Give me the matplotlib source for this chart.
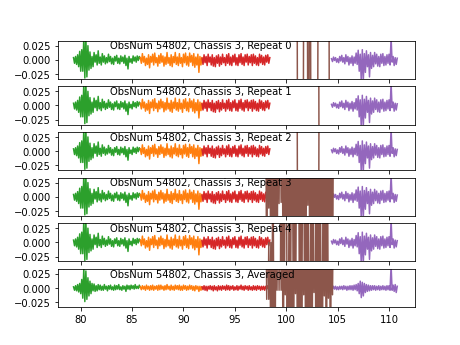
import numpy as np
import matplotlib
matplotlib.use("Agg")
import matplotlib.pyplot as plt

titles = ["ObsNum 54802, Chassis 3, Repeat 0",
          "ObsNum 54802, Chassis 3, Repeat 1",
          "ObsNum 54802, Chassis 3, Repeat 2",
          "ObsNum 54802, Chassis 3, Repeat 3",
          "ObsNum 54802, Chassis 3, Repeat 4",
          "ObsNum 54802, Chassis 3, Averaged"]

# frequency spans of each board (GHz)
green_span = (79.3, 85.8)
orange_span = (85.8, 91.8)
red_span = (91.8, 98.4)
purple_span = (104.4, 110.8)

# single repeats (peak-to-peak samples)
green_rep = [0.004, -0.006, 0.006, -0.008, 0.009, -0.012, 0.015, -0.02, 0.018, -0.02,
             0.04, -0.032, 0.04, -0.03, 0.025, -0.018, 0.014, -0.015, 0.006, -0.012,
             0.013, -0.004, 0.009, -0.009, 0.016, -0.006, 0.005, -0.009, 0.011, -0.004,
             0.007, -0.007, 0.004, -0.005, 0.01, -0.003, 0.006, -0.007, 0.003, -0.008,
             0.006, -0.002, 0.008, -0.006, 0.003, -0.007, 0.007, -0.003, 0.005, -0.006,
             0.008, -0.01, 0.003, -0.016, 0.006, -0.004, 0.002, -0.006, 0.007, -0.002,
             0.005, -0.004, 0.007, -0.001, 0.006, 0.002]
orange_rep = [0.004, -0.006, 0.011, -0.004, 0.006, -0.01, 0.003, -0.008, 0.009, -0.014,
              0.006, -0.004, 0.01, -0.009, 0.012, -0.005, 0.004, -0.011, 0.008, -0.006,
              0.011, -0.004, 0.007, -0.011, 0.005, -0.008, 0.013, -0.006, 0.004, -0.01,
              0.009, -0.012, 0.006, -0.005, 0.013, -0.008, 0.005, -0.01, 0.011, -0.006,
              0.004, -0.012, 0.01, -0.005, 0.012, -0.009, 0.006, -0.011, 0.012, -0.004,
              0.008, -0.01, 0.011, -0.013, 0.005, -0.009, 0.01, -0.022, 0.006, -0.009,
              0.004]
red_rep = [0.003, -0.008, 0.009, -0.005, 0.006, -0.01, 0.01, -0.004, 0.005, -0.009,
           0.009, -0.011, 0.004, -0.012, 0.007, -0.006, 0.009, -0.011, 0.005, -0.008,
           0.01, -0.005, 0.004, -0.01, 0.009, -0.006, 0.011, -0.009, 0.005, -0.01,
           0.008, -0.004, 0.01, -0.009, 0.004, -0.01, 0.009, -0.005, 0.011, -0.008,
           0.005, -0.01, 0.009, -0.004, 0.01, -0.009, 0.006, -0.005, 0.009, -0.01,
           0.01, -0.006, 0.007, -0.009, 0.004, -0.01, 0.01, -0.005, 0.008, -0.008,
           0.005, -0.009, 0.008, -0.004, 0.009, -0.006, 0.004]
purple_rep = [0.002, -0.003, 0.005, -0.001, 0.004, -0.004, 0.002, -0.005, 0.006, -0.002,
              0.008, -0.004, 0.004, -0.007, 0.009, -0.003, 0.006, -0.009, 0.004, -0.006,
              0.007, -0.01, 0.005, -0.006, 0.012, -0.008, 0.017, -0.02, 0.01, -0.04,
              0.018, -0.035, 0.011, -0.022, 0.016, -0.012, 0.009, -0.03, 0.013, -0.015,
              0.008, -0.012, 0.013, -0.007, 0.01, -0.011, 0.006, -0.012, 0.01, -0.006,
              0.011, -0.01, 0.006, -0.009, 0.009, -0.006, 0.01, -0.009, 0.04, -0.004,
              0.006, -0.01, 0.004, -0.008, 0.003]

# averaged spectrum
green_avg = [0.002, -0.004, 0.004, -0.005, 0.006, -0.007, 0.008, -0.01,
             0.015, -0.018, 0.035, -0.024, 0.03, -0.02, 0.018, -0.014, 0.012, -0.01,
             0.008, -0.005, 0.007, -0.006, 0.004, -0.005, 0.006, -0.003, 0.005, -0.004,
             0.003, -0.004, 0.006, -0.002, 0.003, -0.005, 0.004, -0.002, 0.005, -0.003,
             0.002, -0.004, 0.005, -0.003, 0.004, -0.002, 0.006, -0.003, 0.002, -0.004,
             0.004, -0.002, 0.003, -0.006, 0.005, -0.002, 0.004, -0.003, 0.005, -0.001,
             0.004, -0.002, 0.006, -0.001, 0.003, -0.001, 0.005, 0.001]
orange_avg = [0.002, -0.003, 0.004, -0.002, 0.003, -0.004, 0.005, -0.002, 0.003, -0.004,
              0.004, -0.003, 0.005, -0.004, 0.003, -0.002, 0.004, -0.004, 0.005, -0.003,
              0.005, -0.002, 0.003, -0.004, 0.004, -0.003, 0.006, -0.002, 0.003, -0.004,
              0.005, -0.003, 0.003, -0.004, 0.005, -0.002, 0.004, -0.003, 0.005, -0.004,
              0.003, -0.004, 0.005, -0.002, 0.004, -0.004, 0.003, -0.003, 0.005, -0.002,
              0.004, -0.004, 0.003, -0.005, 0.004, -0.002, 0.003, -0.006, 0.003, -0.004,
              0.002]
red_avg = [0.002, -0.003, 0.004, -0.004, 0.003, -0.005, 0.003, -0.002, 0.004, -0.003,
           0.003, -0.005, 0.004, -0.003, 0.002, -0.005, 0.004, -0.003, 0.003, -0.004,
           0.004, -0.002, 0.003, -0.004, 0.005, -0.003, 0.004, -0.004, 0.003, -0.002,
           0.004, -0.004, 0.002, -0.003, 0.004, -0.004, 0.003, -0.002, 0.005, -0.003,
           0.003, -0.004, 0.004, -0.002, 0.003, -0.004, 0.004, -0.003, 0.002, -0.004,
           0.004, -0.003, 0.003, -0.004, 0.004, -0.002, 0.003, -0.004, 0.003, -0.003,
           0.003, -0.004, 0.003, -0.002, 0.004, -0.003, 0.002]
purple_avg = [0.002, -0.002, 0.003, -0.002, 0.003, -0.003, 0.002, -0.003, 0.003, -0.002,
              0.003, -0.003, 0.004, -0.002, 0.003, -0.004, 0.003, -0.003, 0.004, -0.003,
              0.004, -0.004, 0.005, -0.003, 0.006, -0.005, 0.008, -0.01, 0.012, -0.017,
              0.01, -0.014, 0.008, -0.008, 0.006, -0.006, 0.005, -0.005, 0.004, -0.004,
              0.004, -0.003, 0.004, -0.004, 0.003, -0.003, 0.004, -0.004, 0.003, -0.003,
              0.004, -0.003, 0.003, -0.004, 0.004, -0.003, 0.004, -0.004, 0.04, -0.004,
              0.005, -0.006, 0.006, -0.008, 0.003]

# brown board is way off scale; only the sign swaps show up
brown_x0 = [98.0, 101.05, 101.1, 101.65, 101.7, 102.05, 102.1, 102.2, 102.25,
            102.35, 102.4, 103.05, 103.1, 104.15, 104.2, 104.6]
brown_y0 = [0.2, 0.2, -0.2, -0.2, 0.2, 0.2, -0.2, -0.2, 0.2,
            0.2, -0.2, -0.2, 0.2, 0.2, -0.2, -0.2]
brown_x1 = [98.0, 103.15, 103.2, 104.6]
brown_y1 = [0.2, 0.2, -0.2, -0.2]
brown_x2 = [98.0, 101.05, 101.1, 103.15, 103.2, 104.6]
brown_y2 = [0.2, 0.2, -0.2, -0.2, 0.2, 0.2]
brown_y3 = [0.2, -0.2, 0.2, -0.02, 0.2, -0.2, 0.2, -0.2, 0.2, -0.2,
            0.2, -0.2, 0.2, -0.012, 0.2, -0.01, 0.2, -0.2, 0.2, -0.2,
            0.2, -0.2, 0.2, -0.2, 0.2, -0.2, 0.2, -0.2, 0.2, -0.2,
            0.2, -0.2, 0.2, -0.2, 0.2, -0.2, 0.2, -0.2, 0.2, -0.2,
            0.2, -0.015, 0.2, -0.2, 0.2, -0.2, 0.2, -0.2, 0.2, -0.2,
            0.2, -0.2, 0.2, -0.2, 0.2, -0.2, 0.2, -0.2, 0.2, -0.2,
            0.2, -0.2, 0.2, -0.2, 0.2, -0.2, 0.2]
brown_y4 = [-0.2, 0.0, -0.2, 0.0, -0.2, 0.2, -0.2, -0.2, -0.2, -0.2,
            -0.2, -0.2, -0.2, 0.2, -0.2, 0.2, -0.2, 0.2, 0.2, -0.2,
            -0.2, 0.2, -0.2, 0.2, 0.2, -0.2, 0.2, -0.2, 0.2, 0.2,
            0.2, -0.2, 0.2, -0.2, 0.2, 0.2, -0.2, 0.2, -0.2, 0.2,
            -0.2, -0.2, 0.2, -0.2, 0.2, -0.2, -0.2, 0.2, -0.2, 0.2,
            -0.2, 0.2, -0.2, -0.2, 0.2, -0.2, 0.2, -0.2, 0.2, -0.2]
brown_y5 = [0.2, -0.02, 0.2, -0.02, 0.2, -0.2, 0.2, -0.2, 0.2, -0.2,
            0.2, -0.004, 0.2, -0.004, 0.2, -0.004, 0.2, -0.2, 0.2, -0.012,
            0.2, -0.2, 0.2, -0.2, 0.2, -0.2, 0.2, -0.2, 0.2, -0.01,
            0.2, -0.2, 0.2, -0.2, 0.2, -0.2, 0.2, -0.012, 0.2, -0.2,
            0.2, -0.2, 0.2, -0.2, 0.2, -0.2, 0.2, -0.008, 0.2, -0.2,
            0.2, -0.2, 0.2, -0.2, 0.2, -0.2, 0.2, -0.014, 0.2, -0.2,
            0.2, -0.018, 0.2, -0.2, 0.2, -0.012, 0.2]

brown_x = [brown_x0, brown_x1, brown_x2,
           np.linspace(98.0, 104.6, len(brown_y3)),
           np.linspace(98.2, 104.1, len(brown_y4)),
           np.linspace(98.0, 104.6, len(brown_y5))]
brown_y = [brown_y0, brown_y1, brown_y2, brown_y3, brown_y4, brown_y5]


def board(span, vals):
    return np.linspace(span[0], span[1], len(vals)), vals


fig, axes = plt.subplots(6, 1, sharex=True, figsize=(6.4, 4.8), dpi=72)

for i, ax in enumerate(axes):
    if i < 5:
        g, o, r, p = green_rep, orange_rep, red_rep, purple_rep
    else:
        g, o, r, p = green_avg, orange_avg, red_avg, purple_avg
    ax.plot(*board(green_span, g), color='tab:green')
    ax.plot(*board(orange_span, o), color='tab:orange')
    ax.plot(*board(red_span, r), color='tab:red')
    ax.plot(*board(purple_span, p), color='tab:purple')
    ax.plot(brown_x[i], brown_y[i], color='tab:brown')
    ax.set_ylim(-0.0335, 0.0335)
    ax.text(0.147, 1.0, titles[i], transform=ax.transAxes, va='top')

axes[0].set_xlim(77.75, 112.5)
fig.savefig("out.png", dpi=72)
